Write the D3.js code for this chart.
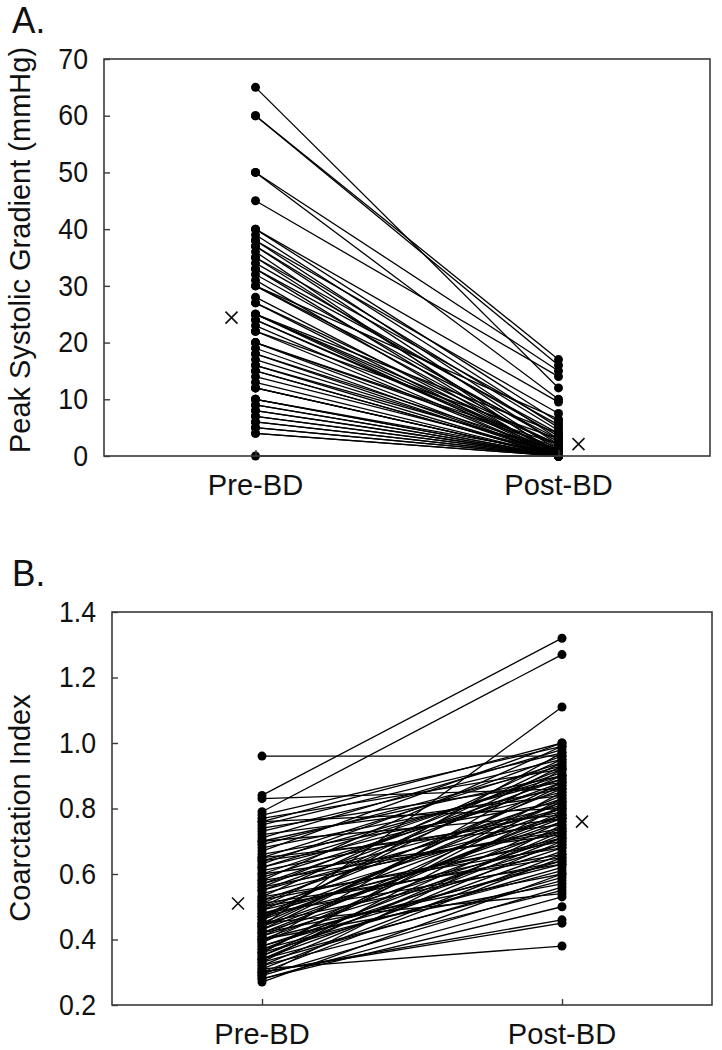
<!DOCTYPE html>
<html>
<head>
<meta charset="utf-8">
<script src="https://cdn.jsdelivr.net/npm/d3@7"></script>
<style>
  body { margin: 0; background: #fff; }
  svg text { font-family: "Liberation Sans", Arial, sans-serif; fill: #111; }
</style>
</head>
<body>
<div id="container"></div>
<script>
// categories
const groups = ['Pre-BD', 'Post-BD'];

// A. peak systolic gradient (mmHg), one entry per patient
const gradientPre = [65, 60, 60, 50, 50, 45, 40, 40, 39, 38,
  38, 37, 37, 36, 35, 35, 34, 33, 33, 32,
  31, 30, 30, 30, 28, 27, 27, 25, 25, 25,
  25, 24, 24, 23, 22, 22, 20, 20, 20, 19,
  18, 18, 17, 16, 16, 15, 15, 14, 12, 12,
  12, 10, 10, 10, 9, 9, 8, 8, 7, 7,
  6, 6, 5, 5, 4, 4, 13, 0];
const gradientPost = [12, 17, 16, 15, 10, 14, 9.5, 6, 5, 7.5,
  3, 4.5, 2, 0, 5.5, 1, 3.5, 0.5, 4, 2.5,
  0, 1.5, 6.5, 3, 0.5, 2, 0, 1, 4, 2,
  0, 1, 0.5, 0, 3, 0, 1.5, 0, 2, 0,
  1, 0, 0.5, 0, 1, 0, 0, 0.5, 0, 0,
  0, 0, 0.5, 0, 0, 0, 0, 0, 0, 0,
  0, 0, 0, 0, 0, 0, 0, 0];
const gradientTicks = [0, 10, 20, 30, 40, 50, 60, 70];
const gradientMeans = [24.4, 2.1];

// B. coarctation index, one entry per patient
const indexPre = [0.96, 0.84, 0.83, 0.79, 0.78, 0.77, 0.76, 0.76, 0.75, 0.74,
  0.73, 0.72, 0.71, 0.70, 0.70, 0.69, 0.68, 0.67, 0.66, 0.65,
  0.65, 0.64, 0.63, 0.62, 0.61, 0.60, 0.60, 0.59, 0.58, 0.57,
  0.56, 0.56, 0.55, 0.54, 0.53, 0.52, 0.52, 0.51, 0.50, 0.50,
  0.49, 0.48, 0.47, 0.47, 0.46, 0.45, 0.45, 0.44, 0.43, 0.42,
  0.42, 0.41, 0.40, 0.40, 0.39, 0.38, 0.44, 0.37, 0.36, 0.36,
  0.35, 0.34, 0.34, 0.33, 0.32, 0.31, 0.30, 0.30, 0.29, 0.28,
  0.27, 0.44, 0.41, 0.39, 0.37, 0.35, 0.33, 0.31, 0.29, 0.46,
  0.48, 0.43, 0.40, 0.36, 0.32, 0.28, 0.50, 0.53, 0.55, 0.58,
  0.62, 0.45, 0.42, 0.38, 0.34, 0.30, 0.47, 0.49, 0.51, 0.57,
  0.64];
const indexPost = [0.96, 1.32, 0.86, 1.27, 0.99, 0.92, 1.00, 0.80, 0.97, 0.88,
  0.95, 0.84, 0.98, 0.90, 0.78, 0.93, 0.86, 1.00, 0.82, 0.94,
  0.75, 0.89, 0.96, 0.85, 0.79, 0.91, 0.72, 0.87, 0.99, 0.81,
  0.92, 0.74, 0.88, 0.77, 0.95, 0.83, 0.70, 0.90, 0.78, 0.66,
  0.86, 0.73, 0.93, 0.69, 0.80, 0.84, 0.64, 0.76, 0.88, 0.71,
  0.60, 0.82, 0.74, 0.63, 0.79, 0.68, 1.11, 0.72, 0.85, 0.62,
  0.76, 0.67, 0.58, 0.81, 0.70, 0.38, 0.45, 0.65, 0.56, 0.53,
  0.60, 0.87, 0.69, 0.92, 0.61, 0.71, 0.59, 0.66, 0.75, 0.97,
  0.63, 0.77, 0.57, 0.83, 0.55, 0.50, 0.94, 0.68, 0.80, 0.73,
  0.90, 0.54, 0.78, 0.64, 0.73, 0.46, 0.82, 0.71, 0.65, 0.89,
  0.77];
const indexTicks = [0.2, 0.4, 0.6, 0.8, 1.0, 1.2, 1.4];
const indexMeans = [0.51, 0.76];

const svg = d3.select('#container')
  .append('svg')
  .attr('width', 722)
  .attr('height', 1050);

// text with an optional horizontal squeeze
function label(g, txt, x, y, size, anchor, sx, rotate) {
  return g.append('text')
    .attr('transform', `translate(${x},${y})` + (rotate ? ` rotate(${rotate})` : '') + ` scale(${sx},1)`)
    .attr('text-anchor', anchor)
    .style('font-size', size + 'px')
    .text(txt);
}

function panel({letter, letterY, box, pre, post, ticks, fmt, domain, means, title, titleY}) {
  const g = svg.append('g');

  const x = d3.scalePoint().domain(groups).range([box.left, box.right]).padding(0.5);
  const y = d3.scaleLinear().domain(domain).range([box.bottom, box.top]);

  const pairs = pre.map((d, i) => ({pre: d, post: post[i]}));

  // 1. patient lines
  g.selectAll('.pair')
    .data(pairs)
    .enter()
    .append('line')
    .attr('x1', x(groups[0]))
    .attr('x2', x(groups[1]))
    .attr('y1', d => y(d.pre))
    .attr('y2', d => y(d.post))
    .attr('stroke', '#000')
    .attr('stroke-width', 1.3);

  // 2. dots at both ends
  groups.forEach((grp, k) => {
    g.selectAll(`.dot${k}`)
      .data(pairs)
      .enter()
      .append('circle')
      .attr('cx', x(grp))
      .attr('cy', d => y(k == 0 ? d.pre : d.post))
      .attr('r', 4.5)
      .attr('fill', '#000');
  });

  // 3. frame
  g.append('rect')
    .attr('x', box.left)
    .attr('y', box.top)
    .attr('width', box.right - box.left)
    .attr('height', box.bottom - box.top)
    .attr('fill', 'none')
    .attr('stroke', '#3a3a3a')
    .attr('stroke-width', 1.6);

  // 4. y axis, ticks pointing inward
  const tsx = 0.92;
  const yAxis = g.append('g')
    .attr('transform', `translate(${box.left},0)`)
    .call(d3.axisLeft(y).tickValues(ticks).tickFormat(fmt).tickSize(-6).tickPadding(16));
  yAxis.select('.domain').remove();
  yAxis.selectAll('line').attr('stroke', '#3a3a3a').attr('stroke-width', 1.4);
  yAxis.selectAll('text')
    .attr('fill', '#111')
    .style('font-family', '"Liberation Sans", Arial, sans-serif')
    .style('font-size', '29px')
    .attr('x', -16 / tsx)
    .attr('transform', `scale(${tsx},1)`);

  // 5. x ticks inward
  const xAxis = g.append('g')
    .attr('transform', `translate(0,${box.bottom})`)
    .call(d3.axisBottom(x).tickSize(-6).tickFormat(''));
  xAxis.select('.domain').remove();
  xAxis.selectAll('line').attr('stroke', '#3a3a3a').attr('stroke-width', 1.4);

  groups.forEach(grp => label(g, grp, x(grp), box.bottom + 39, 30, 'middle', 0.97));

  // 6. group means as crosses
  means.forEach((m, k) => {
    const cx = x(groups[k]) + (k == 0 ? -24 : 20);
    const cy = y(m);
    const s = 6;
    g.append('path')
      .attr('d', `M${cx - s},${cy - s}L${cx + s},${cy + s}M${cx - s},${cy + s}L${cx + s},${cy - s}`)
      .attr('stroke', '#111')
      .attr('stroke-width', 1.6)
      .attr('fill', 'none');
  });

  label(g, title, 30, titleY, 29, 'middle', 1, -90);
  label(g, letter, 12, letterY, 37, 'start', 0.95);
}

panel({
  letter: 'A.', letterY: 33,
  box: {left: 104, right: 710, top: 59, bottom: 456},
  pre: gradientPre, post: gradientPost,
  ticks: gradientTicks, fmt: d3.format('d'), domain: [0, 70],
  means: gradientMeans,
  title: 'Peak Systolic Gradient (mmHg)', titleY: 250
});

panel({
  letter: 'B.', letterY: 586,
  box: {left: 112, right: 712, top: 612, bottom: 1005},
  pre: indexPre, post: indexPost,
  ticks: indexTicks, fmt: d3.format('.1f'), domain: [0.2, 1.4],
  means: indexMeans,
  title: 'Coarctation Index', titleY: 808
});
</script>
</body>
</html>
